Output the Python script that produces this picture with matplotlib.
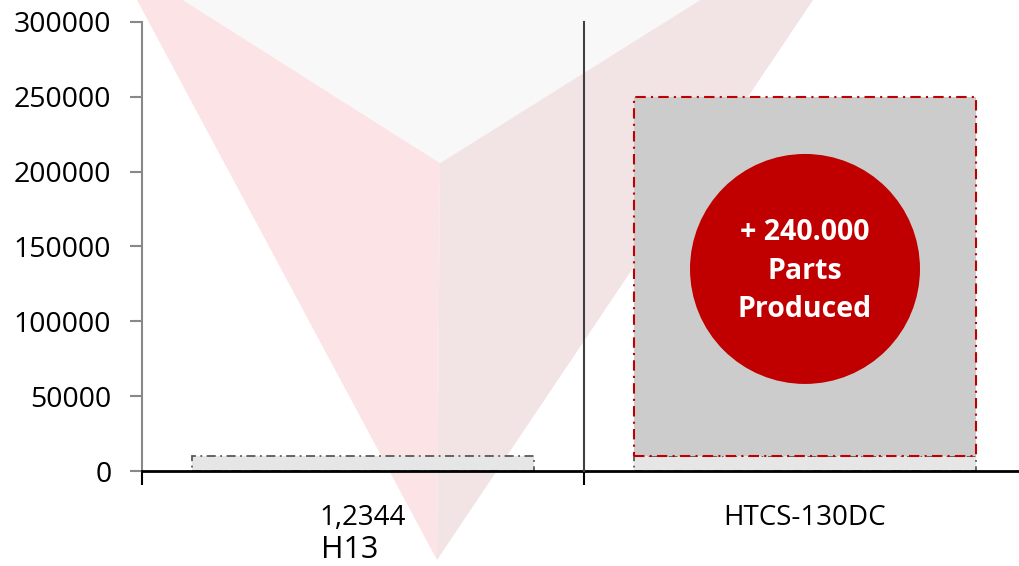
import matplotlib
matplotlib.use("Agg")
import matplotlib.pyplot as plt
from matplotlib.patches import Polygon, Ellipse
from matplotlib.transforms import blended_transform_factory

plt.rcParams['font.family'] = ['Open Sans', 'DejaVu Sans']

categories = ["1,2344", "HTCS-130DC"]
sub_label = "H13"
base_parts = [10000, 10000]
added_parts = [0, 240000]
y_ticks = [0, 50000, 100000, 150000, 200000, 250000, 300000]
badge_lines = ["+ 240.000", "Parts", "Produced"]

W, H = 1019, 566
fig = plt.figure(figsize=(W / 100, H / 100), dpi=100)


def px(points):
    # pixel coords (y down) -> figure fraction
    return [(x / W, 1 - y / H) for x, y in points]


# faded watermark in the background
for pts, col in [
    ([(137, 0), (183, 0), (440, 163), (437, 560)], "#fbe3e6"),
    ([(440, 163), (700, 0), (813, 0), (437, 560)], "#f2e4e5"),
    ([(183, 0), (700, 0), (440, 163)], "#f8f8f9"),
]:
    fig.add_artist(Polygon(px(pts), closed=True, facecolor=col, edgecolor="none",
                           transform=fig.transFigure, zorder=0))

ax = fig.add_axes([142 / W, 95 / H, 884 / W, 449 / H])
ax.patch.set_visible(False)

dashdot = (0, (5, 2.5, 1, 2.5))
x = list(range(len(categories)))
ax.bar(x, base_parts, width=0.776, color="#e6e6e6", edgecolor="#595959",
       linestyle=dashdot, linewidth=1.3, zorder=2)
xs = [i for i in x if added_parts[i] > 0]
ax.bar(xs, [added_parts[i] for i in xs], width=0.776,
       bottom=[base_parts[i] for i in xs], color="#cccccc",
       edgecolor="#c00000", linestyle=dashdot, linewidth=1.5, zorder=2)

# separator between the two groups
ax.plot([0.5, 0.5], [0, 300000], color="#404040", lw=1.5, zorder=3, clip_on=False)

ax.set_xlim(-0.5, 1.5)
ax.set_ylim(0, 300000)
ax.set_yticks(y_ticks)
ax.set_yticklabels([str(v) for v in y_ticks], fontsize=20.5)
ax.tick_params(axis="y", length=9, width=1.5, color="#888888", pad=13)

ax.set_xticks([-0.5, 0.5, 1.5])
ax.set_xticklabels([])
ax.set_xticks(x, minor=True)
ax.set_xticklabels(categories, minor=True, fontsize=20)
ax.tick_params(axis="x", which="major", length=10, width=1.5, color="black")
ax.tick_params(axis="x", which="minor", length=0, pad=24)

for s in ["top", "right"]:
    ax.spines[s].set_visible(False)
ax.spines["left"].set_color("#888888")
ax.spines["left"].set_linewidth(1.5)
ax.spines["bottom"].set_color("black")
ax.spines["bottom"].set_linewidth(2)

trans = blended_transform_factory(ax.transData, ax.transAxes)
ax.text(-0.03, -0.177, sub_label, transform=trans, fontsize=22,
        ha="center", va="center")

# red badge over the second bar
cx, cy = 1, 135000
ax.add_patch(Ellipse((cx, cy), 230 / 442, 230 / 449 * 300000,
                     facecolor="#c00000", edgecolor="none", zorder=4))
for i, line in enumerate(badge_lines):
    ax.text(cx, 133600 + (1 - i) * 25600, line, color="white", fontsize=20.5,
            fontweight="bold", ha="center", va="center", zorder=5)

fig.savefig("out.png", dpi=100)
